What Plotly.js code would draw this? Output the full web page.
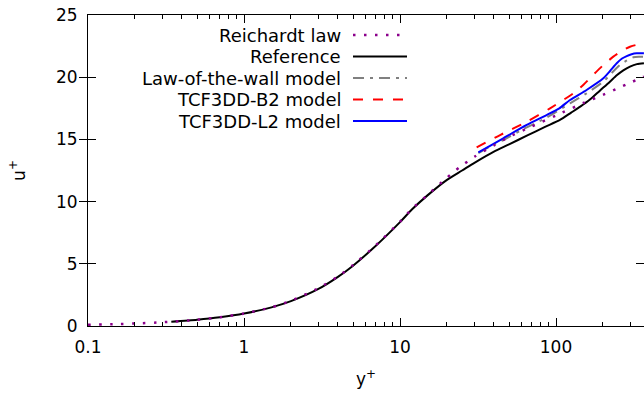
<!DOCTYPE html>
<html>
<head>
<meta charset="utf-8">
<script src="https://cdn.plot.ly/plotly-3.0.1.min.js"></script>
<style>html,body{margin:0;padding:0;background:#fff;}#chart{width:644px;height:394px;}</style>
</head>
<body>
<div id="chart"></div>
<script>
// Reichardt law (dotted)
const reichardtY = [0.1, 0.15, 0.2, 0.3, 0.5, 0.7, 1, 1.5, 2, 3, 4, 5, 7, 10, 12, 15, 20, 24, 30, 40, 50, 70, 100, 150, 200, 250, 300, 366];
const reichardtU = [0.1, 0.15, 0.2, 0.3, 0.5, 0.7, 1.0, 1.5, 2.03, 3.04, 3.98, 4.9, 6.49, 8.38, 9.45, 10.53, 11.93, 12.75, 13.6, 14.52, 15.2, 16.05, 16.92, 17.93, 18.58, 19.12, 19.56, 20.05];
// Reference (solid black)
const refY = [0.342, 0.5, 0.7, 1, 1.5, 2, 3, 4, 5, 7, 10, 12, 15, 20, 25, 30, 40, 50, 65, 85, 106, 125, 143, 165, 191, 220, 245, 270, 298, 330, 366];
const refU = [0.34, 0.5, 0.7, 1.0, 1.5, 2.0, 2.98, 3.95, 4.85, 6.45, 8.35, 9.4, 10.5, 11.75, 12.5, 13.12, 14.02, 14.6, 15.3, 16.0, 16.56, 17.15, 17.63, 18.2, 18.92, 19.6, 20.15, 20.55, 20.85, 21.05, 21.12];
// Law-of-the-wall model (gray dash-dot)
const lotwY = [31.8, 38, 45.9, 64.9, 87, 123, 157, 201, 230, 257, 285, 313, 340, 366];
const lotwU = [13.9, 14.45, 14.95, 15.97, 16.75, 17.9, 18.7, 19.64, 20.4, 20.98, 21.35, 21.6, 21.65, 21.65];
// TCF3DD-B2 model (red dashed)
const b2Y = [31, 43.8, 64.9, 91.6, 129, 150, 173, 200, 233, 265, 298, 330, 366];
const b2U = [14.36, 15.35, 16.42, 17.5, 18.7, 19.4, 20.18, 20.95, 21.65, 22.12, 22.45, 22.6, 22.59];
// TCF3DD-L2 model (blue solid)
const l2Y = [31.8, 38, 45.9, 64.9, 87, 105, 123, 157, 201, 222, 245, 265, 284, 305, 329, 366];
const l2U = [13.96, 14.5, 15.09, 16.16, 16.96, 17.5, 18.17, 18.97, 19.91, 20.5, 21.12, 21.5, 21.7, 21.85, 21.92, 21.92];

const xTickVals = [0.1, 1, 10, 100];
const xTickText = ['0.1', '1', '10', '100'];
const legendNames = ['Reichardt law', 'Reference', 'Law-of-the-wall model', 'TCF3DD-B2 model', 'TCF3DD-L2 model'];

const minorTicks = [];
for (let d = 0.1; d < 1000; d *= 10) {
  for (let k = 2; k <= 9; k++) { const v = +(k * d).toPrecision(3); if (v < 370) minorTicks.push(v); }
}

const FONT = 'DejaVu Sans, Liberation Sans, sans-serif';
const FS = 17;
const LFS = 18;
const styles = [
  {color: '#8b008b', width: 2.5, dash: '2.5px,8.5px'},
  {color: '#000000', width: 2, dash: 'solid'},
  {color: '#808080', width: 2, dash: '11px,6px,3px,6px'},
  {color: '#ff0000', width: 2, dash: '10px,10px'},
  {color: '#0000ff', width: 2, dash: 'solid'}
];

const series = [
  [reichardtY, reichardtU], [refY, refU], [lotwY, lotwU], [b2Y, b2U], [l2Y, l2U]
];

const traces = series.map((s, i) => ({
  x: s[0], y: s[1], type: 'scatter', mode: 'lines', name: legendNames[i],
  xaxis: i === 0 ? 'x2' : 'x', yaxis: 'y',
  line: {color: styles[i].color, width: styles[i].width, dash: styles[i].dash, shape: 'spline', smoothing: 0.6},
  showlegend: false, hoverinfo: 'skip'
}));
const ordered = [traces[1], traces[2], traces[3], traces[4], traces[0]];

// manual legend (text right-aligned, sample to the right)
const plotL = 88, plotR = 644, plotT = 15, plotB = 326;
const px = v => (v - plotL) / (plotR - plotL);
const py = v => (plotB - v) / (plotB - plotT);
const rowY = [35, 56.5, 78, 99.5, 121];
const annotations = legendNames.map((n, i) => ({
  text: n, xref: 'paper', yref: 'paper', x: px(343), y: py(rowY[i]),
  xanchor: 'right', yanchor: 'middle', showarrow: false,
  font: {family: FONT, size: LFS, color: '#000'}
}));
const shapes = legendNames.map((n, i) => ({
  type: 'line', xref: 'paper', yref: 'paper',
  x0: px(353), x1: px(407), y0: py(rowY[i]), y1: py(rowY[i]),
  line: {color: styles[i].color, width: styles[i].width, dash: styles[i].dash}
}));

const axisCommon = {
  showline: true, linecolor: '#000', linewidth: 1, mirror: 'allticks',
  ticks: 'inside', tickcolor: '#000', tickwidth: 1, showgrid: false, zeroline: false,
  tickfont: {family: FONT, size: FS, color: '#000'}
};

const layout = {
  width: 644, height: 394,
  margin: {l: 88, r: 0, t: 15, b: 68},
  paper_bgcolor: '#fff', plot_bgcolor: '#fff',
  font: {family: FONT, size: FS, color: '#000'},
  xaxis: Object.assign({}, axisCommon, {
    type: 'log', range: [-1, 2.564], tickmode: 'array', tickvals: xTickVals, ticktext: xTickText,
    ticklen: 8, ticklabelstandoff: 6,
    title: {text: 'y<sup>+</sup>', font: {family: FONT, size: FS}, standoff: 16}
  }),
  xaxis2: Object.assign({}, axisCommon, {
    type: 'log', range: [-1, 2.564], overlaying: 'x', anchor: 'y', side: 'bottom',
    tickmode: 'array', tickvals: minorTicks, ticklen: 4, showticklabels: false
  }),
  yaxis: Object.assign({}, axisCommon, {
    range: [0, 25], tickmode: 'linear', tick0: 0, dtick: 5, ticklen: 8, ticklabelstandoff: 6,
    title: {text: 'u<sup>+</sup>', font: {family: FONT, size: FS}, standoff: 26}
  }),
  annotations: annotations,
  shapes: shapes,
  showlegend: false
};

Plotly.newPlot('chart', ordered, layout, {staticPlot: true, displayModeBar: false});
</script>
</body>
</html>
